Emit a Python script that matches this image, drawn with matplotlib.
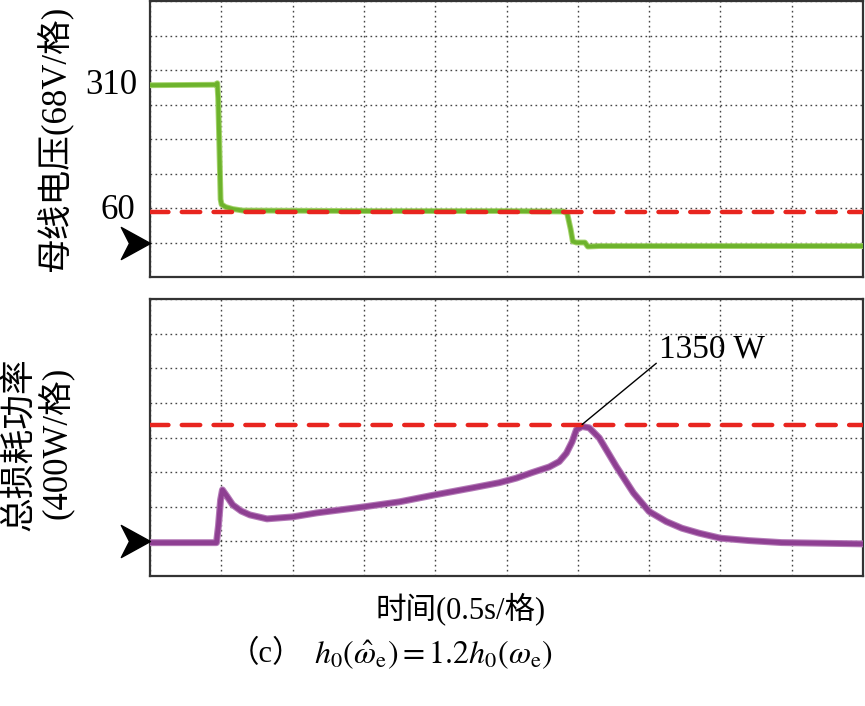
import numpy as np
import matplotlib
matplotlib.use('Agg')
import matplotlib.pyplot as plt
from matplotlib.path import Path

plt.rcParams['font.family'] = ['Liberation Serif', 'Noto Sans CJK SC']
plt.rcParams['mathtext.fontset'] = 'stix'

# bus voltage trace (s, V)
bus_t = [0, 0.46, 0.472, 0.478, 0.485, 0.495, 0.502, 0.53, 0.58, 0.65, 1.5, 2.5,
         2.90, 2.925, 2.95, 2.965, 2.99, 3.05, 3.07, 3.15, 5.0]
bus_v = [310, 311, 314, 285, 205, 85, 75, 70, 66, 63, 62, 62,
         61, 58, 26, 2, 0, 0, -8, -7, -7]

# total loss trace (s, W)
loss_t = [0, 0.466, 0.48, 0.495, 0.508, 0.54, 0.58, 0.64, 0.70, 0.82, 1.0, 1.17,
          1.5, 1.75, 2.0, 2.26, 2.45, 2.57, 2.68, 2.80, 2.87, 2.92, 2.96, 2.99,
          3.03, 3.08, 3.15, 3.27, 3.39, 3.50, 3.62, 3.73, 3.85, 4.0, 4.2, 4.43, 5.0]
loss_p = [-15, -15, 180, 480, 595, 520, 422, 350, 306, 260, 283, 329,
          399, 457, 538, 618, 678, 731, 795, 860, 922, 1019, 1150, 1289,
          1327, 1312, 1196, 865, 560, 345, 229, 152, 95, 37, 9, -14, -29]

v_ref = 60
p_ref = 1350
v_div = 68
p_div = 400
t_div = 0.5

green = '#6db32c'
purple = '#8e3f92'
red = '#e8251f'

fig = plt.figure(figsize=(8.65, 7.06), dpi=100)
ax1 = fig.add_axes([150 / 865, 1 - 277 / 706, 713 / 865, 276 / 706])
ax2 = fig.add_axes([150 / 865, 1 - 576 / 706, 713 / 865, 277 / 706])

ground = Path([(-1, 0.55), (0, 0), (-1, -0.55), (-0.72, 0), (-1, 0.55)],
              [Path.MOVETO, Path.LINETO, Path.LINETO, Path.LINETO, Path.CLOSEPOLY])

for ax, div in [(ax1, v_div), (ax2, p_div)]:
    ax.set_xlim(0, 10 * t_div)
    ax.set_ylim(-div, 7 * div)
    ax.set_xticks(np.arange(0, 10 * t_div + 0.01, t_div))
    ax.set_yticks(np.arange(-div, 7 * div + 1, div))
    ax.tick_params(length=0, labelbottom=False, labelleft=False)
    ax.grid(True, color='#444444', linewidth=1.0, linestyle=(0, (1.2, 2.4)))
    ax.set_axisbelow(True)
    for s in ax.spines.values():
        s.set_linewidth(1.6)
        s.set_color('#333333')
    ax.plot([0], [0], marker=ground, markersize=42, color='black',
            linestyle='none', clip_on=False, zorder=6)

# top: bus voltage
ax1.plot(bus_t, bus_v, color='#a6d46e', linewidth=4.2, solid_joinstyle='round', zorder=3)
ax1.plot(bus_t, bus_v, color=green, linewidth=2.8, solid_joinstyle='round', zorder=3)
ax1.axhline(v_ref, color=red, linewidth=3.2, linestyle=(0, (4.15, 3.0)),
            dash_capstyle='round', zorder=4)
ax1.text(-0.018, 310, '310', transform=ax1.get_yaxis_transform(),
         ha='right', va='center', fontsize=25)
ax1.text(-0.021, 64, '60', transform=ax1.get_yaxis_transform(),
         ha='right', va='center', fontsize=25)

# bottom: total loss
ax2.plot(loss_t, loss_p, color='#b47ab7', linewidth=5.0, solid_joinstyle='round', zorder=3)
ax2.plot(loss_t, loss_p, color=purple, linewidth=3.4, solid_joinstyle='round', zorder=3)
ax2.axhline(p_ref, color=red, linewidth=3.2, linestyle=(0, (4.15, 3.0)),
            dash_capstyle='round', zorder=4)
ax2.annotate('1350 W', xy=(3.03, p_ref), xytext=(3.57, 2225),
             ha='left', va='center', fontsize=24,
             arrowprops=dict(arrowstyle='-', color='black', linewidth=1.0,
                             relpos=(0, 0.1), shrinkA=0, shrinkB=0), zorder=5)

fig.text(55 / 865, 1 - 139 / 706, '母线电压(68V/格)', rotation=90,
         ha='center', va='center', fontsize=25)
fig.text(20 / 865, 1 - 444 / 706, '总损耗功率', rotation=90,
         ha='center', va='center', fontsize=25)
fig.text(56 / 865, 1 - 443 / 706, '(400W/格)', rotation=90,
         ha='center', va='center', fontsize=25)
fig.text(461 / 865, 1 - 609 / 706, '时间(0.5s/格)', ha='center', va='center', fontsize=22)
fig.text(266 / 865, 1 - 655 / 706, '（c）', ha='center', va='center', fontsize=22)
fig.text(433 / 865, 1 - 655 / 706,
         r'$h_0\left(\hat{\omega}_{\mathrm{e}}\right)=1.2h_0\left(\omega_{\mathrm{e}}\right)$',
         ha='center', va='center', fontsize=23)

fig.savefig('out.png', dpi=100)
